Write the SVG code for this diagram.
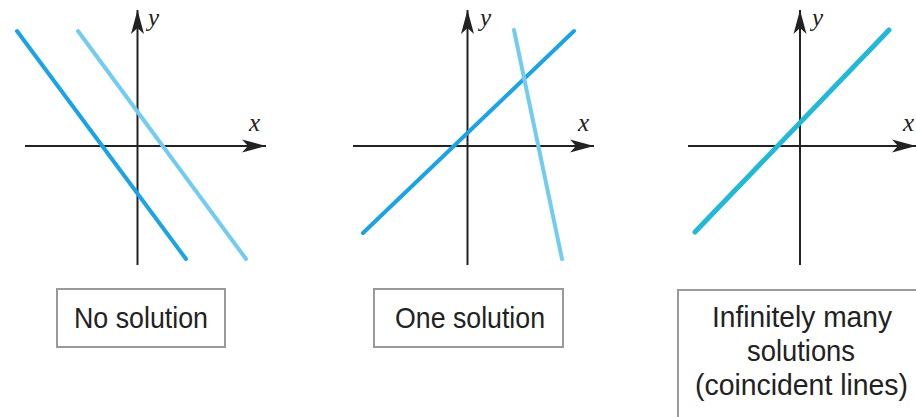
<svg xmlns="http://www.w3.org/2000/svg" width="916" height="417" viewBox="0 0 916 417">
<style>
.axis{stroke:#222;stroke-width:2;fill:none}
.dark{stroke:#1aa3e6;stroke-width:4;stroke-linecap:round}
.light{stroke:#72ccf2;stroke-width:4;stroke-linecap:round}
.teal{stroke:#22b9d6;stroke-width:5;stroke-linecap:round}
.var{font-family:"Liberation Serif",serif;font-style:italic;font-size:25px;fill:#222}
.box{fill:#fff;stroke:#999;stroke-width:2}
.lbl{font-family:"Liberation Sans",Arial,sans-serif;font-size:30px;fill:#222;text-anchor:middle}
</style>
<defs>
<marker id="arr" markerUnits="userSpaceOnUse" markerWidth="26" markerHeight="16" viewBox="0 -8 26 16" refX="24" refY="0" orient="auto">
<path d="M24,0 L0,-6.5 L6,0 L0,6.5 Z" fill="#222"/>
</marker>
</defs>
<g id="panel-no-solution">
<line class="axis" x1="25" y1="146" x2="266" y2="146" marker-end="url(#arr)"/>
<line class="axis" x1="137.5" y1="265" x2="137.5" y2="10" marker-end="url(#arr)"/>
<text class="var" x="148" y="26">y</text>
<text class="var" x="249" y="131">x</text>
<line class="dark" x1="17" y1="31" x2="186" y2="259"/>
<line class="light" x1="78" y1="31" x2="246" y2="259"/>
</g>
<g id="panel-one-solution">
<line class="axis" x1="353" y1="146" x2="594" y2="146" marker-end="url(#arr)"/>
<line class="axis" x1="467.5" y1="265" x2="467.5" y2="10" marker-end="url(#arr)"/>
<text class="var" x="480" y="26">y</text>
<text class="var" x="578" y="131">x</text>
<line class="dark" x1="363" y1="233" x2="574" y2="31"/>
<line class="light" x1="514" y1="30" x2="562" y2="259"/>
</g>
<g id="panel-infinite">
<line class="axis" x1="688" y1="146" x2="916" y2="146" marker-end="url(#arr)"/>
<line class="axis" x1="800" y1="265" x2="800" y2="10" marker-end="url(#arr)"/>
<text class="var" x="812" y="26">y</text>
<text class="var" x="903" y="131">x</text>
<line class="teal" x1="695" y1="232" x2="889" y2="30"/>
</g>
<g id="label-no-solution">
<rect class="box" x="57" y="289" width="168" height="58"/>
<text class="lbl" x="141" y="328" textLength="134" lengthAdjust="spacingAndGlyphs">No solution</text>
</g>
<g id="label-one-solution">
<rect class="box" x="374" y="289" width="189" height="58"/>
<text class="lbl" x="470" y="328" textLength="150" lengthAdjust="spacingAndGlyphs">One solution</text>
</g>
<g id="label-infinite">
<rect class="box" x="678" y="290" width="250" height="140"/>
<text class="lbl" x="802" y="327" textLength="180" lengthAdjust="spacingAndGlyphs">Infinitely many</text>
<text class="lbl" x="801" y="361" textLength="108" lengthAdjust="spacingAndGlyphs">solutions</text>
<text class="lbl" x="801.5" y="395" font-size="29" textLength="213" lengthAdjust="spacingAndGlyphs">(coincident lines)</text>
</g>
</svg>
